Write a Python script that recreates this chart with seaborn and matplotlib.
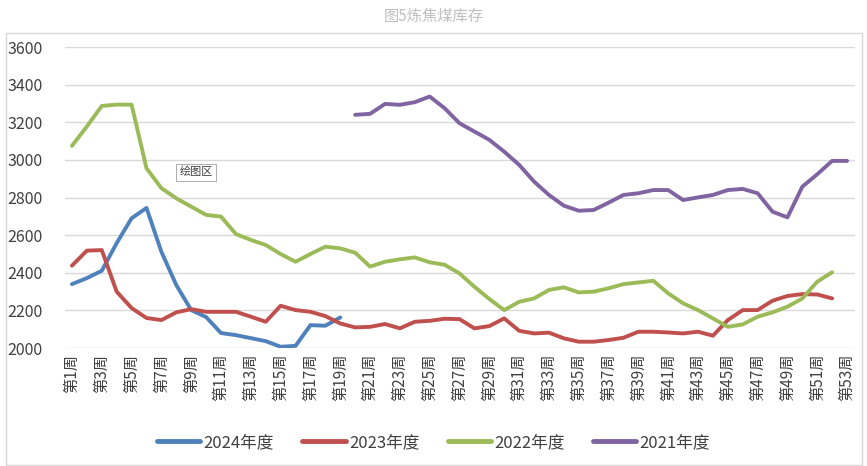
import matplotlib
matplotlib.use("Agg")
import matplotlib.pyplot as plt
from matplotlib.patches import Rectangle
import numpy as np
import pandas as pd
import seaborn as sns

# weekly coking coal inventory
weeks_2024 = list(range(1, 20))
values_2024 = [2340, 2372, 2411, 2558, 2690, 2745, 2512, 2335, 2202, 2165,
               2080, 2069, 2053, 2037, 2007, 2012, 2122, 2119, 2163]

weeks_2023 = list(range(1, 53))
values_2023 = [2438, 2518, 2521, 2300, 2213, 2160, 2149, 2190, 2207, 2193,
               2193, 2193, 2167, 2140, 2225, 2202, 2193, 2170, 2131, 2110,
               2113, 2128, 2105, 2140, 2145, 2156, 2154, 2105, 2117, 2158,
               2092, 2078, 2082, 2052, 2034, 2034, 2043, 2055, 2087, 2087,
               2083, 2078, 2087, 2066, 2149, 2202, 2202, 2252, 2277, 2287,
               2285, 2264]

weeks_2022 = list(range(1, 53))
values_2022 = [3075, 3178, 3287, 3294, 3294, 2956, 2850, 2796, 2752, 2708,
               2699, 2606, 2575, 2548, 2500, 2459, 2500, 2539, 2530, 2507,
               2433, 2459, 2472, 2482, 2456, 2443, 2397, 2326, 2261, 2202,
               2246, 2264, 2309, 2323, 2296, 2300, 2318, 2340, 2349, 2358,
               2291, 2238, 2202, 2158, 2113, 2126, 2167, 2190, 2220, 2264,
               2353, 2403]

weeks_2021 = list(range(20, 54))
values_2021 = [3240, 3245, 3298, 3293, 3307, 3337, 3275, 3195, 3151, 3107,
               3044, 2974, 2885, 2814, 2757, 2730, 2734, 2773, 2814, 2823,
               2840, 2840, 2787, 2801, 2814, 2840, 2846, 2823, 2725, 2695,
               2858, 2924, 2995, 2995]

series_names = ["2024年度", "2023年度", "2022年度", "2021年度"]
series_colours = ["#4F81BD", "#C0504D", "#9BBB59", "#8064A2"]

week_labels = [f"第{w}周" for w in range(1, 54)]
y_ticks = list(range(2000, 3601, 200))

df = pd.concat([
    pd.DataFrame({"week": weeks_2024, "value": values_2024, "series": series_names[0]}),
    pd.DataFrame({"week": weeks_2023, "value": values_2023, "series": series_names[1]}),
    pd.DataFrame({"week": weeks_2022, "value": values_2022, "series": series_names[2]}),
    pd.DataFrame({"week": weeks_2021, "value": values_2021, "series": series_names[3]}),
])

sns.set_style("white")
plt.rcParams["font.family"] = ["Noto Sans CJK SC", "DejaVu Sans"]

fig = plt.figure(figsize=(8.67, 4.66), dpi=100)
ax = fig.add_axes([0.0744, 0.253, 0.9112, 0.646])

sns.lineplot(data=df, x="week", y="value", hue="series",
             hue_order=series_names, palette=series_colours,
             linewidth=2.8, ax=ax, legend=False)

ax.set_xlim(0.5, 53.5)
ax.set_ylim(2000, 3600)
ax.set_yticks(y_ticks)
ax.set_yticklabels([str(t) for t in y_ticks], fontsize=11.5, color="#404040")
ax.set_xticks(range(1, 54, 2))
ax.set_xticklabels(week_labels[::2], rotation=90, fontsize=11, color="#404040")
ax.tick_params(axis="both", length=0, pad=4)
ax.tick_params(axis="y", pad=16)
ax.set_xlabel("")
ax.set_ylabel("")
for y in y_ticks:
    ax.axhline(y, color="#d9d9d9", linewidth=1.0, zorder=0)
for s in ax.spines.values():
    s.set_visible(False)

# legend below the plot
handles = [plt.Line2D([], [], color=c, linewidth=3.5) for c in series_colours]
fig.legend(handles, series_names, loc="center", bbox_to_anchor=(0.5, 0.05),
           ncol=4, frameon=False, fontsize=12, handlelength=2.6,
           handletextpad=0.2, columnspacing=1.7, labelcolor="#404040")

# title and chart border
fig.text(0.5, 0.965, "图5炼焦煤库存", ha="center", va="center",
         fontsize=11, color="#bfbfbf")
fig.patches.append(Rectangle((6 / 867, 0.002), 856 / 867, 1 - 33 / 466 - 0.002,
                             transform=fig.transFigure, fill=False,
                             edgecolor="#d9d9d9", linewidth=1.0))

# the "绘图区" hover tag visible in the source screenshot
ax.text(8.2, 2935, "绘图区", fontsize=8, color="#404040", va="center", ha="left",
        bbox=dict(boxstyle="square,pad=0.3", facecolor="white",
                  edgecolor="#a0a0a0", linewidth=0.6))

fig.savefig("out.png", dpi=100)
